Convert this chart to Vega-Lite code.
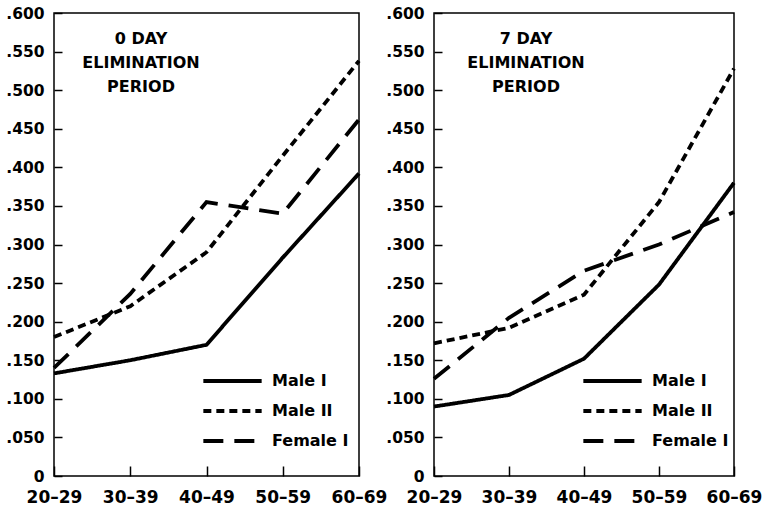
{
  "$schema": "https://vega.github.io/schema/vega-lite/v6.json",
  "background": "white",
  "padding": {"left": 5, "top": 5, "right": 3, "bottom": 0},
  "spacing": 75,
  "bounds": "flush",
  "config": {
    "view": {"stroke": "black", "strokeWidth": 1.5},
    "font": "DejaVu Sans",
    "axis": {
      "domain": false,
      "grid": false,
      "tickColor": "black",
      "tickWidth": 1.5,
      "labelColor": "black",
      "labelFont": "DejaVu Sans",
      "labelFontWeight": "bold",
      "labelFontSize": 15.5,
      "title": null
    },
    "legend": {
      "orient": "none",
      "legendX": 147,
      "legendY": 356,
      "title": null,
      "symbolType": "stroke",
      "symbolSize": 3400,
      "symbolStrokeWidth": 3.8,
      "symbolStrokeColor": "black",
      "labelFontSize": 16,
      "labelFontWeight": "bold",
      "labelColor": "black",
      "labelFont": "DejaVu Sans",
      "clipHeight": 24,
      "rowPadding": 6,
      "labelOffset": 8
    },
    "title": {"fontSize": 16, "fontWeight": "bold", "color": "black", "font": "DejaVu Sans"}
  },
  "datasets": {
    "d0": [
      {"age": "20–29", "group": "Male I", "value": 0.133},
      {"age": "30–39", "group": "Male I", "value": 0.150},
      {"age": "40–49", "group": "Male I", "value": 0.170},
      {"age": "50–59", "group": "Male I", "value": 0.283},
      {"age": "60–69", "group": "Male I", "value": 0.392},
      {"age": "20–29", "group": "Male II", "value": 0.180},
      {"age": "30–39", "group": "Male II", "value": 0.220},
      {"age": "40–49", "group": "Male II", "value": 0.290},
      {"age": "50–59", "group": "Male II", "value": 0.415},
      {"age": "60–69", "group": "Male II", "value": 0.538},
      {"age": "20–29", "group": "Female I", "value": 0.140},
      {"age": "30–39", "group": "Female I", "value": 0.236},
      {"age": "40–49", "group": "Female I", "value": 0.355},
      {"age": "50–59", "group": "Female I", "value": 0.340},
      {"age": "60–69", "group": "Female I", "value": 0.462}
    ],
    "d7": [
      {"age": "20–29", "group": "Male I", "value": 0.090},
      {"age": "30–39", "group": "Male I", "value": 0.105},
      {"age": "40–49", "group": "Male I", "value": 0.152},
      {"age": "50–59", "group": "Male I", "value": 0.248},
      {"age": "60–69", "group": "Male I", "value": 0.380},
      {"age": "20–29", "group": "Male II", "value": 0.172},
      {"age": "30–39", "group": "Male II", "value": 0.192},
      {"age": "40–49", "group": "Male II", "value": 0.235},
      {"age": "50–59", "group": "Male II", "value": 0.355},
      {"age": "60–69", "group": "Male II", "value": 0.528},
      {"age": "20–29", "group": "Female I", "value": 0.126},
      {"age": "30–39", "group": "Female I", "value": 0.205},
      {"age": "40–49", "group": "Female I", "value": 0.266},
      {"age": "50–59", "group": "Female I", "value": 0.300},
      {"age": "60–69", "group": "Female I", "value": 0.342}
    ]
  },
  "resolve": {"legend": {"strokeDash": "independent"}},
  "hconcat": [
    {
      "width": 305,
      "height": 463,
      "data": {"name": "d0"},
      "title": {"text": ["0  DAY", "ELIMINATION", "PERIOD"], "anchor": "start", "frame": "group", "align": "center", "dx": 87, "offset": -89, "lineHeight": 24},
      "mark": {"type": "line", "color": "black", "strokeWidth": 3.8},
      "encoding": {
        "x": {"field": "age", "type": "ordinal", "sort": ["20–29", "30–39", "40–49", "50–59", "60–69"], "scale": {"type": "point", "padding": 0}, "axis": {"labelAngle": 0, "tickSize": -10, "labelPadding": 23, "labelFontSize": 17}},
        "y": {"field": "value", "type": "quantitative", "scale": {"domain": [0, 0.6], "nice": false}, "axis": {"values": [0, 0.05, 0.1, 0.15, 0.2, 0.25, 0.3, 0.35, 0.4, 0.45, 0.5, 0.55, 0.6], "tickSize": -8, "labelPadding": 18, "labelExpr": "datum.value == 0 ? '0' : substring(format(datum.value, '.3f'), 1)"}},
        "strokeDash": {"field": "group", "type": "nominal", "scale": {"domain": ["Male I", "Male II", "Female I"], "range": [[1, 0], [8, 5], [20, 11]]}}
      }
    },
    {
      "width": 300,
      "height": 463,
      "data": {"name": "d7"},
      "title": {"text": ["7  DAY", "ELIMINATION", "PERIOD"], "anchor": "start", "frame": "group", "align": "center", "dx": 92, "offset": -89, "lineHeight": 24},
      "mark": {"type": "line", "color": "black", "strokeWidth": 3.8},
      "encoding": {
        "x": {"field": "age", "type": "ordinal", "sort": ["20–29", "30–39", "40–49", "50–59", "60–69"], "scale": {"type": "point", "padding": 0}, "axis": {"labelAngle": 0, "tickSize": -10, "labelPadding": 23, "labelFontSize": 17}},
        "y": {"field": "value", "type": "quantitative", "scale": {"domain": [0, 0.6], "nice": false}, "axis": {"values": [0, 0.05, 0.1, 0.15, 0.2, 0.25, 0.3, 0.35, 0.4, 0.45, 0.5, 0.55, 0.6], "tickSize": -8, "labelPadding": 18, "labelExpr": "datum.value == 0 ? '0' : substring(format(datum.value, '.3f'), 1)"}},
        "strokeDash": {"field": "group", "type": "nominal", "scale": {"domain": ["Male I", "Male II", "Female I"], "range": [[1, 0], [8, 5], [20, 11]]}}
      }
    }
  ]
}
